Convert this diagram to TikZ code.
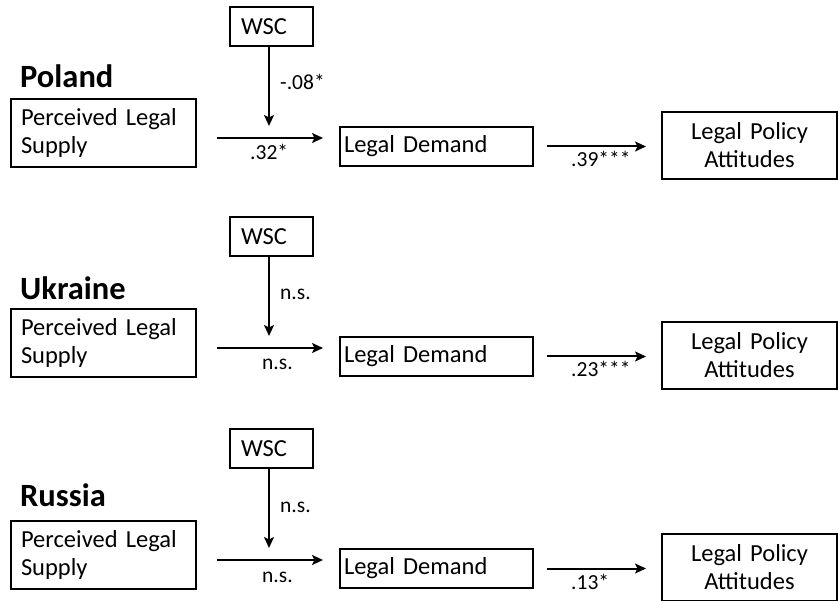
\documentclass[tikz,border=0pt]{standalone}
\usepackage{fontspec}
\setmainfont{Carlito}
\usetikzlibrary{arrows.meta}
\begin{document}
\begin{tikzpicture}[x=1pt,y=-1pt,
  box/.style={draw,line width=2pt,inner ysep=0pt,font=\fontsize{24.5}{28}\selectfont},
  lbl/.style={anchor=base west,inner sep=0pt,font=\fontsize{21.5}{24}\selectfont},
  country/.style={anchor=base west,inner sep=0pt,font=\fontsize{32.5}{36}\selectfont\bfseries},
  arr/.style={line width=2pt,-{Stealth[length=11pt,width=10pt,inset=2.5pt]}}]
\useasboundingbox (0,0) rectangle (838,601);
\foreach \n/\dy/\cname/\cb/\lv/\lh/\hx/\lo in {P/0/Poland/88/-.08*/.32*/250/.39***,U/210/Ukraine/300/n.s./n.s./262/.23***,R/422/Russia/506/n.s./n.s./262/.13*}{
  \node[country] (c\n) at (20,\cb) {\cname};
  \node[box,minimum width=83pt,minimum height=39pt,text width=61pt,inner xsep=11pt,align=left] (w\n) at (271.5,26.5+\dy) {WSC};
  \node[box,minimum width=185pt,minimum height=68pt,text width=165pt,inner xsep=10pt,align=left] (s\n) at (103.5,133+\dy) {Perceived Legal\\Supply};
  \node[box,minimum width=193pt,minimum height=39pt,text width=185pt,inner xsep=4pt,align=left] (d\n) at (436.5,146.5+\dy) {Legal Demand};
  \node[box,minimum width=175pt,minimum height=67pt,text width=155pt,inner xsep=10pt,align=center] (l\n) at (749.5,145.5+\dy) {Legal Policy\\Attitudes};
  \coordinate (a\n) at (217,138+\dy);
  \coordinate (b\n) at (323,138+\dy);
  \coordinate (m\n) at (269,126+\dy);
  \draw[arr] (a\n) -- (b\n);
  \draw[arr] (w\n.south -| m\n) -- (m\n);
  \draw[arr] ([xshift=13pt]d\n.east) -- ([xshift=-15pt]d\n.east -| l\n.west);
  \node[lbl] (v\n) at (280,90+\dy) {\lv};
  \node[lbl] (h\n) at (\hx,160+\dy) {\lh};
  \node[lbl] (o\n) at (571,167+\dy) {\lo};
}
\end{tikzpicture}
\end{document}
